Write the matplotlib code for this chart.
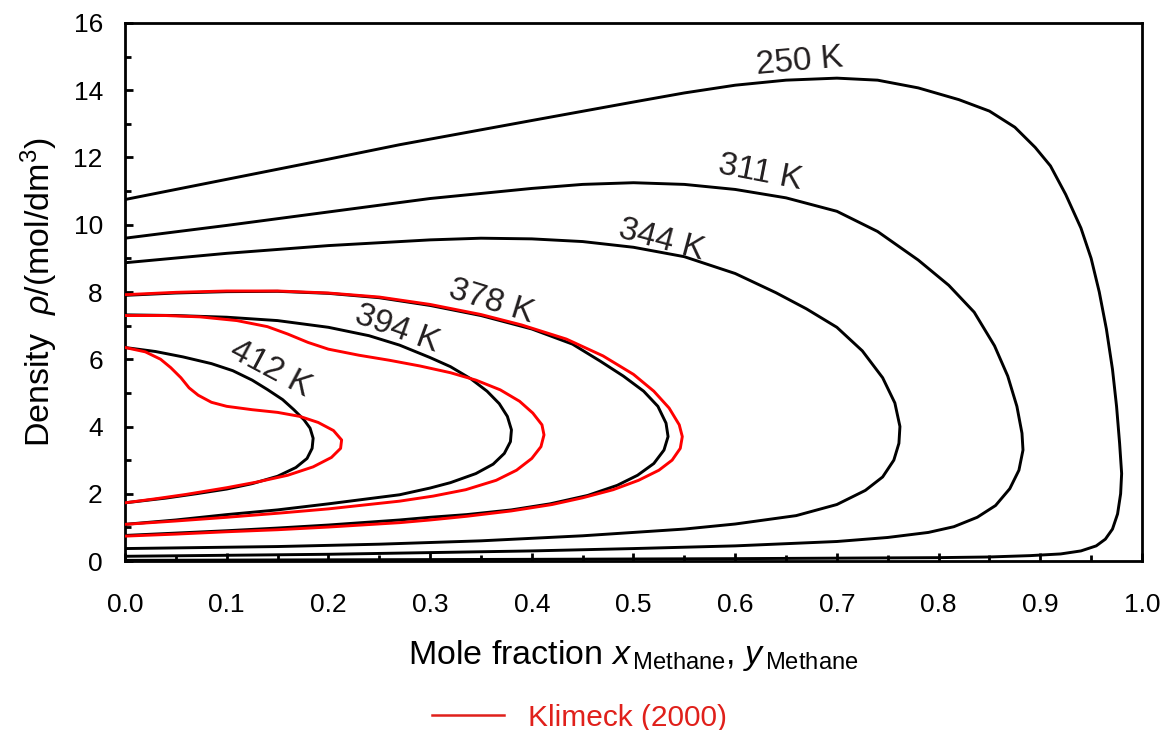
import matplotlib
matplotlib.use("Agg")
import matplotlib.pyplot as plt
from matplotlib.lines import Line2D
from matplotlib.ticker import MultipleLocator, FormatStrFormatter

plt.rcParams['font.family'] = ['Liberation Sans', 'DejaVu Sans']
plt.rcParams['mathtext.fontset'] = 'custom'
plt.rcParams['mathtext.rm'] = 'Liberation Sans'
plt.rcParams['mathtext.it'] = 'Liberation Sans:italic'

# Phase envelopes (methane + n-butane): mole fraction of methane vs. molar density.
# Each loop runs from the pure-butane liquid (x = 0) around the critical point
# and back along the vapour branch to x = 0.
x_250 = [0.0, 0.10, 0.20, 0.27, 0.40, 0.50, 0.55, 0.60, 0.65, 0.70, 0.74, 0.78, 0.82,
         0.85, 0.875, 0.895, 0.91, 0.925, 0.94, 0.95, 0.958, 0.965, 0.971, 0.975, 0.978,
         0.980, 0.979, 0.976, 0.971, 0.964, 0.955, 0.94, 0.92, 0.89, 0.85, 0.80, 0.60,
         0.40, 0.20, 0.0]
rho_250 = [10.75, 11.35, 11.95, 12.38, 13.1, 13.65, 13.92, 14.15, 14.3, 14.36, 14.3, 14.07,
           13.72, 13.38, 12.9, 12.3, 11.75, 10.9, 9.9, 9.0, 8.0, 6.9, 5.7, 4.6, 3.5,
           2.6, 2.0, 1.4, 0.95, 0.65, 0.45, 0.30, 0.21, 0.16, 0.12, 0.10, 0.07,
           0.05, 0.035, 0.02]

x_311 = [0.0, 0.10, 0.20, 0.30, 0.40, 0.45, 0.50, 0.55, 0.60, 0.65, 0.70, 0.74, 0.78,
         0.81, 0.835, 0.855, 0.868, 0.877, 0.882, 0.883, 0.879, 0.870, 0.856, 0.838,
         0.815, 0.79, 0.75, 0.70, 0.60, 0.50, 0.40, 0.30, 0.20, 0.10, 0.0]
rho_311 = [9.6, 9.98, 10.38, 10.78, 11.08, 11.2, 11.25, 11.2, 11.05, 10.8, 10.4, 9.8, 8.95,
           8.2, 7.4, 6.4, 5.5, 4.6, 3.8, 3.3, 2.7, 2.15, 1.65, 1.3,
           1.02, 0.85, 0.70, 0.58, 0.45, 0.37, 0.30, 0.25, 0.20, 0.17, 0.14]

x_344 = [0.0, 0.10, 0.20, 0.30, 0.35, 0.40, 0.45, 0.50, 0.55, 0.60, 0.64, 0.67, 0.70,
         0.725, 0.745, 0.757, 0.762, 0.761, 0.756, 0.745, 0.728, 0.70, 0.66, 0.60, 0.55,
         0.45, 0.35, 0.25, 0.15, 0.0]
rho_344 = [8.87, 9.15, 9.38, 9.55, 9.6, 9.58, 9.5, 9.33, 9.05, 8.55, 7.98, 7.5, 6.95,
           6.25, 5.45, 4.7, 4.0, 3.5, 3.0, 2.5, 2.1, 1.68, 1.35, 1.1, 0.95,
           0.75, 0.60, 0.50, 0.43, 0.37]

x_378 = [0.0, 0.05, 0.10, 0.15, 0.20, 0.25, 0.30, 0.35, 0.40, 0.44, 0.467, 0.49, 0.51,
         0.524, 0.532, 0.534, 0.530, 0.520, 0.504, 0.484, 0.455, 0.418, 0.38, 0.336,
         0.30, 0.27, 0.20, 0.15, 0.10, 0.05, 0.0]
rho_378 = [7.9, 7.97, 8.01, 8.02, 7.96, 7.83, 7.6, 7.3, 6.9, 6.45, 5.95, 5.5, 5.05,
           4.6, 4.1, 3.7, 3.3, 2.9, 2.55, 2.25, 1.95, 1.7, 1.52, 1.38,
           1.3, 1.22, 1.07, 0.98, 0.90, 0.83, 0.76]

x_394 = [0.0, 0.05, 0.10, 0.15, 0.20, 0.24, 0.27, 0.30, 0.32, 0.34, 0.356, 0.368, 0.376,
         0.380, 0.379, 0.373, 0.362, 0.345, 0.32, 0.30, 0.27, 0.20, 0.15, 0.10, 0.05, 0.0]
rho_394 = [7.32, 7.3, 7.25, 7.15, 6.95, 6.7, 6.42, 6.05, 5.78, 5.42, 5.05, 4.68, 4.3,
           3.9, 3.55, 3.2, 2.88, 2.6, 2.33, 2.17, 1.97, 1.7, 1.52, 1.38, 1.22, 1.09]

x_412 = [0.0, 0.03, 0.057, 0.085, 0.106, 0.125, 0.14, 0.155, 0.166, 0.176, 0.182, 0.185,
         0.184, 0.179, 0.168, 0.15, 0.125, 0.10, 0.07, 0.04, 0.02, 0.0]
rho_412 = [6.35, 6.23, 6.07, 5.87, 5.66, 5.38, 5.1, 4.8, 4.5, 4.2, 3.95, 3.65,
           3.35, 3.05, 2.78, 2.52, 2.3, 2.14, 2.0, 1.87, 1.8, 1.73]

# Klimeck (2000) reference equation of state
xk_378 = [0.0, 0.05, 0.10, 0.15, 0.20, 0.25, 0.30, 0.35, 0.39, 0.434, 0.47, 0.50, 0.52,
          0.535, 0.545, 0.548, 0.546, 0.538, 0.525, 0.505, 0.48, 0.45, 0.42, 0.38, 0.336,
          0.30, 0.27, 0.20, 0.15, 0.10, 0.05, 0.0]
rhok_378 = [7.92, 7.99, 8.03, 8.03, 7.97, 7.85, 7.63, 7.33, 7.02, 6.6, 6.1, 5.55, 5.05,
            4.55, 4.05, 3.7, 3.35, 3.0, 2.7, 2.4, 2.12, 1.88, 1.68, 1.49, 1.33,
            1.22, 1.14, 1.01, 0.93, 0.87, 0.80, 0.74]

xk_394 = [0.0, 0.04, 0.074, 0.11, 0.14, 0.16, 0.18, 0.20, 0.23, 0.26, 0.29, 0.32, 0.345,
          0.369, 0.388, 0.401, 0.41, 0.412, 0.409, 0.40, 0.385, 0.365, 0.335, 0.303, 0.27,
          0.20, 0.15, 0.10, 0.05, 0.0]
rhok_394 = [7.3, 7.3, 7.26, 7.15, 6.97, 6.75, 6.5, 6.3, 6.12, 5.97, 5.8, 5.6, 5.38,
            5.09, 4.75, 4.4, 4.05, 3.75, 3.4, 3.05, 2.7, 2.4, 2.12, 1.93, 1.78,
            1.55, 1.42, 1.30, 1.19, 1.09]

xk_412 = [0.0, 0.02, 0.035, 0.045, 0.055, 0.063, 0.072, 0.085, 0.10, 0.125, 0.15, 0.172,
          0.19, 0.205, 0.213, 0.212, 0.203, 0.185, 0.16, 0.13, 0.10, 0.06, 0.03, 0.0]
rhok_412 = [6.35, 6.22, 6.0, 5.75, 5.45, 5.15, 4.93, 4.72, 4.6, 4.5, 4.42, 4.3,
            4.12, 3.88, 3.6, 3.35, 3.08, 2.8, 2.55, 2.35, 2.18, 1.98, 1.85, 1.73]

labels = ["250 K", "311 K", "344 K", "378 K", "394 K", "412 K"]
label_x = [0.663, 0.625, 0.527, 0.360, 0.267, 0.143]
label_y = [14.85, 11.55, 9.55, 7.7, 6.9, 5.7]
label_rot = [5, -11, -15, -17, -20, -28]

fig = plt.figure(figsize=(11.66, 7.30), dpi=100)
ax = fig.add_axes([0.1072, 0.2315, 0.8722, 0.737])

lw = 2.1
for xs, ys in [(x_250, rho_250), (x_311, rho_311), (x_344, rho_344),
               (x_378, rho_378), (x_394, rho_394), (x_412, rho_412)]:
    ax.plot(xs, ys, color='black', lw=lw, solid_joinstyle='round', zorder=2)

red = '#ff0000'
for xs, ys in [(xk_378, rhok_378), (xk_394, rhok_394), (xk_412, rhok_412)]:
    ax.plot(xs, ys, color=red, lw=lw, solid_joinstyle='round', zorder=3)

for t, lx, ly, r in zip(labels, label_x, label_y, label_rot):
    ax.text(lx, ly, t, fontsize=24, rotation=r, ha='center', va='center',
            color='#231f20', rotation_mode='anchor')

ax.set_xlim(0, 1)
ax.set_ylim(0, 16)
ax.xaxis.set_major_locator(MultipleLocator(0.1))
ax.xaxis.set_minor_locator(MultipleLocator(0.05))
ax.yaxis.set_major_locator(MultipleLocator(2))
ax.yaxis.set_minor_locator(MultipleLocator(1))
ax.xaxis.set_major_formatter(FormatStrFormatter('%.1f'))
ax.tick_params(which='both', direction='in', top=False, right=False, width=2.0)
ax.tick_params(which='major', length=6)
ax.tick_params(which='minor', length=4.5)
ax.tick_params(axis='x', which='major', labelsize=19, pad=23)
ax.tick_params(axis='y', which='major', labelsize=19, pad=16)
for s in ax.spines.values():
    s.set_linewidth(2.0)

ax.set_xlabel(r'Mole fraction $\mathit{x}_{\,\mathrm{Methane}}$, $\mathit{y}_{\,\mathrm{Methane}}$',
              fontsize=24.5, labelpad=15)
ax.set_ylabel(r'Density  $\mathit{\rho}$/(mol/dm$^{3}$)', fontsize=24.5, labelpad=10)

handle = Line2D([], [], color='#e0201b', lw=1.8)
leg = fig.legend([handle], ['Klimeck (2000)'], loc='center', bbox_to_anchor=(0.497, 0.017),
                 frameon=False, fontsize=21.5, handlelength=2.4, handletextpad=0.8)
for txt in leg.get_texts():
    txt.set_color('#e0201b')

fig.savefig('out.png', dpi=100)
